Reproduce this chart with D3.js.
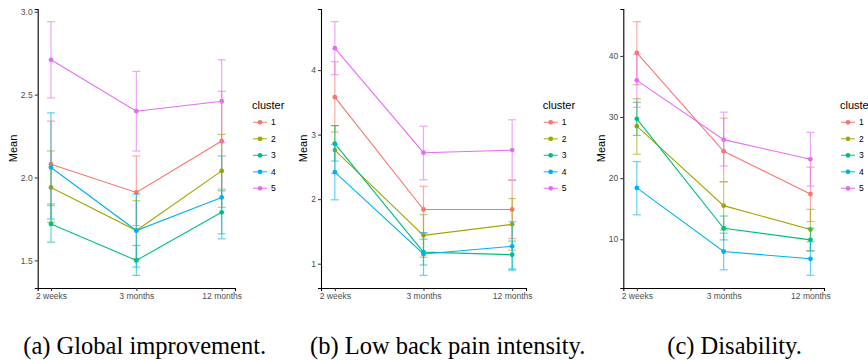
<!DOCTYPE html>
<html>
<head>
<meta charset="utf-8">
<script src="https://cdn.jsdelivr.net/npm/d3@7/dist/d3.min.js"></script>
<style>
  body { margin: 0; background: #fff; }
  .sans { font-family: "Liberation Sans", Arial, sans-serif; }
  .caption { font-family: "Liberation Serif", "Times New Roman", serif; }
</style>
</head>
<body>
<svg id="chart" width="868" height="360"></svg>
<script>
// time points and clusters
var times = ["2 weeks", "3 months", "12 months"];
var clusters = ["1", "2", "3", "4", "5"];
var colors = ["#F8766D", "#A3A500", "#00BF7D", "#00B0F6", "#E76BF3"];

// (a) global improvement, one row per cluster
var giMean = [[2.08, 1.91, 2.22], [1.94, 1.68, 2.04], [1.72, 1.50, 1.79], [2.06, 1.68, 1.88], [2.71, 2.40, 2.46]];
var giLow  = [[1.83, 1.71, 1.93], [1.73, 1.51, 1.82], [1.61, 1.41, 1.66], [1.75, 1.46, 1.63], [2.48, 2.16, 2.21]];
var giHigh = [[2.34, 2.13, 2.52], [2.16, 1.86, 2.26], [1.84, 1.59, 1.92], [2.39, 1.90, 2.13], [2.94, 2.64, 2.71]];
var giTicks = [1.5, 2.0, 2.5, 3.0];

// (b) low back pain intensity
var lbpMean = [[3.58, 1.84, 1.84], [2.76, 1.44, 1.61], [2.86, 1.18, 1.14], [2.42, 1.15, 1.27], [4.34, 2.72, 2.76]];
var lbpLow  = [[3.04, 1.48, 1.39], [2.40, 1.10, 1.21], [2.59, 0.98, 0.92], [1.99, 0.82, 0.90], [3.93, 2.30, 2.30]];
var lbpHigh = [[4.13, 2.20, 2.29], [3.14, 1.76, 2.01], [3.14, 1.38, 1.35], [2.85, 1.48, 1.65], [4.75, 3.13, 3.23]];
var lbpTicks = [1, 2, 3, 4];

// (c) disability
var disMean = [[40.5, 24.4, 17.4], [28.5, 15.5, 11.6], [29.7, 11.8, 9.9], [18.4, 8.0, 6.8], [36.0, 26.3, 23.1]];
var disLow  = [[35.3, 19.4, 12.9], [23.9, 11.5, 8.1], [27.0, 9.9, 8.1], [14.0, 5.0, 4.1], [31.6, 22.0, 18.7]];
var disHigh = [[45.6, 29.8, 21.8], [33.0, 19.4, 14.9], [32.4, 13.8, 11.8], [22.7, 11.0, 9.6], [40.3, 30.8, 27.5]];
var disTicks = [10, 20, 30, 40];

var captions = ["(a) Global improvement.", "(b) Low back pain intensity.", "(c) Disability."];

var svg = d3.select("#chart");

var yTop = 9, yBottom = 288;

// layout of each panel
var panels = [
  { mean: giMean, low: giLow, high: giHigh, ticks: giTicks, fmt: d3.format(".1f"),
    x0: 37.7, x1: 235, titleX: 12.7, legendX: 252, captionX: 23.3 },
  { mean: lbpMean, low: lbpLow, high: lbpHigh, ticks: lbpTicks, fmt: d3.format("d"),
    x0: 321, x1: 526, titleX: 302.7, legendX: 542.7, captionX: 310 },
  { mean: disMean, low: disLow, high: disHigh, ticks: disTicks, fmt: d3.format("d"),
    x0: 623.3, x1: 824, titleX: 600.7, legendX: 840, captionX: 667.3 }
];

panels.forEach(function(p, pi) {
  var g = svg.append("g").attr("class", "sans");

  var x = d3.scalePoint().domain(times).range([p.x0, p.x1]).padding(0.156);

  // ggplot-style 5% expansion of the data range
  var lo = d3.min(p.low, function(r) { return d3.min(r); });
  var hi = d3.max(p.high, function(r) { return d3.max(r); });
  var pad = (hi - lo) * 0.05;
  var y = d3.scaleLinear().domain([lo - pad, hi + pad]).range([yBottom, yTop]);

  // axes
  var yAxis = g.append("g")
    .attr("transform", "translate(" + p.x0 + ",0)")
    .call(d3.axisLeft(y).tickValues(p.ticks).tickFormat(p.fmt).tickSize(3).tickPadding(2));
  var xAxis = g.append("g")
    .attr("transform", "translate(0," + yBottom + ")")
    .call(d3.axisBottom(x).tickSize(3).tickPadding(1.5));

  [yAxis, xAxis].forEach(function(a) {
    a.attr("font-family", null);
    a.select(".domain").attr("stroke", "#000").attr("stroke-width", 1.1);
    a.selectAll(".tick line").attr("stroke", "#333").attr("stroke-width", 1);
    a.selectAll(".tick text").attr("fill", "#4D4D4D").style("font-size", "8.5px");
  });

  g.append("text")
    .attr("transform", "translate(" + (p.titleX + 4) + "," + ((yTop + yBottom) / 2) + ") rotate(-90)")
    .attr("text-anchor", "middle")
    .style("font-size", "11px")
    .attr("fill", "#000")
    .text("Mean");

  // series
  clusters.forEach(function(c, ci) {
    var pts = times.map(function(t, ti) {
      return { t: t, m: p.mean[ci][ti], l: p.low[ci][ti], h: p.high[ci][ti] };
    });
    var sg = g.append("g");

    var bars = sg.selectAll("g.err").data(pts).enter().append("g")
      .attr("stroke", colors[ci]).attr("stroke-width", 1.2).attr("opacity", 0.6);
    bars.append("line")
      .attr("x1", function(d) { return x(d.t); }).attr("x2", function(d) { return x(d.t); })
      .attr("y1", function(d) { return y(d.l); }).attr("y2", function(d) { return y(d.h); });
    bars.append("line")
      .attr("x1", function(d) { return x(d.t) - 4; }).attr("x2", function(d) { return x(d.t) + 4; })
      .attr("y1", function(d) { return y(d.l); }).attr("y2", function(d) { return y(d.l); });
    bars.append("line")
      .attr("x1", function(d) { return x(d.t) - 4; }).attr("x2", function(d) { return x(d.t) + 4; })
      .attr("y1", function(d) { return y(d.h); }).attr("y2", function(d) { return y(d.h); });

    sg.append("path")
      .datum(pts)
      .attr("fill", "none")
      .attr("stroke", colors[ci])
      .attr("stroke-width", 1.1)
      .attr("d", d3.line().x(function(d) { return x(d.t); }).y(function(d) { return y(d.m); }));

    sg.selectAll("circle").data(pts).enter().append("circle")
      .attr("cx", function(d) { return x(d.t); })
      .attr("cy", function(d) { return y(d.m); })
      .attr("r", 2.4)
      .attr("fill", colors[ci]);
  });

  // legend (the third one runs off the right edge, as in the original)
  var lg = g.append("g").attr("transform", "translate(" + p.legendX + ",0)");
  lg.append("text").attr("x", 0).attr("y", 109).style("font-size", "11px").attr("fill", "#000").text("cluster");
  var keys = lg.selectAll("g.key").data(clusters).enter().append("g")
    .attr("transform", function(d, i) { return "translate(0," + (122.3 + i * 16.5) + ")"; });
  keys.append("line").attr("x1", 1).attr("x2", 15).attr("y1", 0).attr("y2", 0)
    .attr("stroke", function(d, i) { return colors[i]; }).attr("stroke-width", 1.2).attr("opacity", 0.8);
  keys.append("circle").attr("cx", 8).attr("cy", 0).attr("r", 2.4)
    .attr("fill", function(d, i) { return colors[i]; });
  keys.append("text").attr("x", 19).attr("y", 3).style("font-size", "8.5px").attr("fill", "#000")
    .text(function(d) { return d; });

  // caption
  svg.append("text")
    .attr("class", "caption")
    .attr("x", p.captionX).attr("y", 354)
    .style("font-size", "24.5px")
    .attr("fill", "#000")
    .text(captions[pi]);
});
</script>
</body>
</html>
